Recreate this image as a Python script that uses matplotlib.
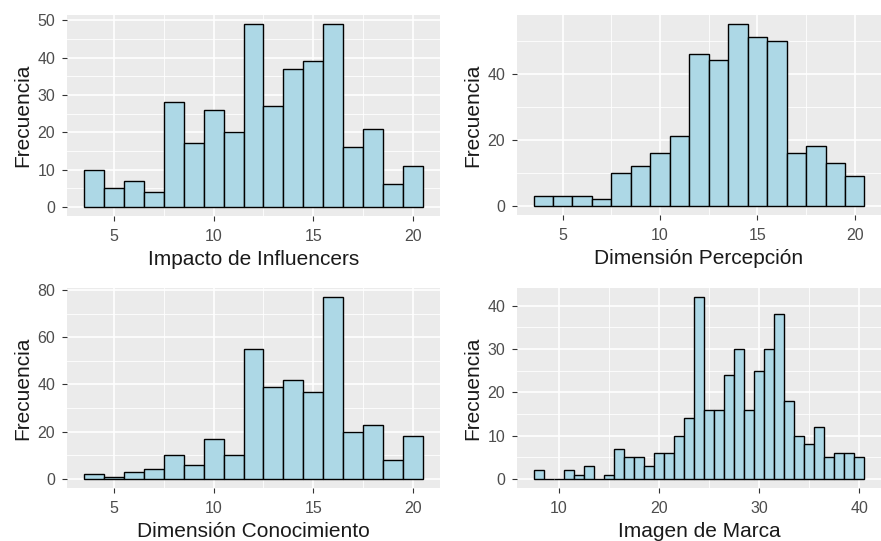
import matplotlib
matplotlib.use("Agg")
import matplotlib.pyplot as plt
import numpy as np

plt.rcParams['font.family'] = ['Liberation Sans', 'DejaVu Sans']

# bin centres (binwidth = 1)
centros_14 = list(range(4, 21))
centros_marca = list(range(8, 41))

# frecuencias
impacto = [10, 5, 7, 4, 28, 17, 26, 20, 49, 27, 37, 39, 49, 16, 21, 6, 11]
percepcion = [3, 3, 3, 2, 10, 12, 16, 21, 46, 44, 55, 51, 50, 16, 18, 13, 9]
conocimiento = [2, 1, 3, 4, 10, 6, 17, 10, 55, 39, 42, 37, 77, 20, 23, 8, 18]
marca = [2, 0, 0, 2, 1, 3, 0, 1, 7, 5, 5, 3, 6, 6, 10, 14, 42, 16, 16, 24,
         30, 16, 25, 30, 38, 18, 10, 8, 12, 5, 6, 6, 5]

titulos = ["Impacto de Influencers", "Dimensión Percepción",
           "Dimensión Conocimiento", "Imagen de Marca"]

W, H = 881, 541
fig = plt.figure(figsize=(W / 100, H / 100), dpi=100)

def px_axes(x0, y0, x1, y1):
    return fig.add_axes([x0 / W, 1 - y1 / H, (x1 - x0) / W, (y1 - y0) / H])

def ggplot_hist(ax, centros, counts, xlabel, xmaj, ymaj):
    centros = np.array(centros)
    counts = np.array(counts)
    ax.set_facecolor('#EBEBEB')
    ax.bar(centros, counts, width=1, color='#ADD8E6', edgecolor='black',
           linewidth=1.0, zorder=3)
    xmin, xmax = centros.min() - 0.5, centros.max() + 0.5
    dx = (xmax - xmin) * 0.05
    ymax = counts.max()
    dy = ymax * 0.05
    ax.set_xlim(xmin - dx, xmax + dx)
    ax.set_ylim(-dy, ymax + dy)
    ax.set_xticks(xmaj)
    ax.set_yticks(ymaj)
    # minor grid at midpoints
    xs = np.diff(xmaj)[0]
    ys = np.diff(ymaj)[0]
    xmin_ = [v for v in np.arange(xmaj[0] - xs / 2, xmaj[-1] + xs, xs)
             if xmin - dx < v < xmax + dx]
    ymin_ = [v for v in np.arange(ymaj[0] - ys / 2, ymaj[-1] + ys, ys)
             if -dy < v < ymax + dy]
    ax.set_xticks(xmin_, minor=True)
    ax.set_yticks(ymin_, minor=True)
    ax.grid(which='major', color='white', linewidth=1.2, zorder=0)
    ax.grid(which='minor', color='white', linewidth=0.6, zorder=0)
    ax.set_axisbelow(True)
    for s in ax.spines.values():
        s.set_visible(False)
    ax.tick_params(which='major', length=3.5, width=0.8, color='#333333',
                   labelcolor='#4D4D4D', labelsize=11.5)
    ax.tick_params(axis='x', which='major', pad=6)
    ax.tick_params(axis='y', which='major', pad=5)
    ax.tick_params(which='minor', length=0)
    ax.set_xlabel(xlabel, fontsize=15, color='#1A1A1A', labelpad=4)
    ax.set_ylabel('Frecuencia', fontsize=15, color='#1A1A1A', labelpad=3.5)

ax1 = px_axes(67, 15, 440, 216)
ggplot_hist(ax1, centros_14, impacto, titulos[0], [5, 10, 15, 20], [0, 10, 20, 30, 40, 50])

ax2 = px_axes(517, 15, 881, 215)
ggplot_hist(ax2, centros_14, percepcion, titulos[1], [5, 10, 15, 20], [0, 20, 40])

ax3 = px_axes(67, 288, 440, 488)
ggplot_hist(ax3, centros_14, conocimiento, titulos[2], [5, 10, 15, 20], [0, 20, 40, 60, 80])

ax4 = px_axes(517, 288, 881, 488)
ggplot_hist(ax4, centros_marca, marca, titulos[3], [10, 20, 30, 40], [0, 10, 20, 30, 40])

fig.savefig('out.png', dpi=100)
